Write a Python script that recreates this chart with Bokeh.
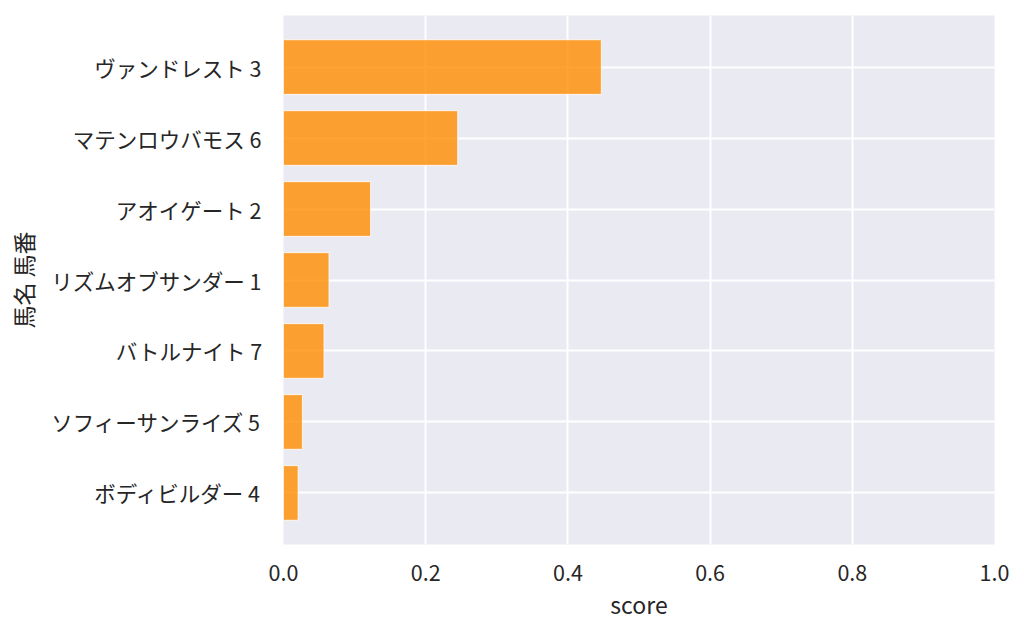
from bokeh.plotting import figure
from bokeh.models import FactorRange, Range1d, FixedTicker, ColumnDataSource
from bokeh.embed import file_html
from bokeh.resources import INLINE

# Data (top to bottom as in the reference)
names = ["ヴァンドレスト 3", "マテンロウバモス 6", "アオイゲート 2", "リズムオブサンダー 1",
         "バトルナイト 7", "ソフィーサンライズ 5", "ボディビルダー 4"]
scores = [0.447, 0.245, 0.1225, 0.064, 0.057, 0.0266, 0.0206]
x_ticks = [0.0, 0.2, 0.4, 0.6, 0.8, 1.0]

FONT = "Noto Sans CJK JP"
TEXT = "#262626"

factors = list(reversed(names))
src = ColumnDataSource(dict(name=names, score=scores))

p = figure(width=1024, height=634, output_backend="svg", toolbar_location=None,
           y_range=FactorRange(factors=factors, range_padding=0.0646, range_padding_units="percent"),
           x_range=Range1d(0, 1.0),
           min_border_left=283, min_border_right=30, min_border_top=15, min_border_bottom=90)

p.hbar(y="name", right="score", left=0, height=0.77, source=src,
       fill_color="#FF8C00", fill_alpha=0.8, line_color="white", line_alpha=0.8, line_width=1)

p.background_fill_color = "#EAEAF2"
p.border_fill_color = "white"
p.outline_line_color = None

p.xgrid.grid_line_color = "white"
p.ygrid.grid_line_color = "white"
p.xgrid.grid_line_width = 2
p.ygrid.grid_line_width = 2

p.xaxis.ticker = FixedTicker(ticks=x_ticks)
p.xaxis.major_label_overrides = {t: f"{t:.1f}" for t in x_ticks}

for ax in (p.xaxis[0], p.yaxis[0]):
    ax.axis_line_color = None
    ax.major_tick_line_color = None
    ax.minor_tick_line_color = None
    ax.major_tick_out = 0
    ax.major_tick_in = 0
    ax.major_label_text_font = FONT
    ax.major_label_text_font_size = "21.5px"
    ax.major_label_text_color = TEXT
    ax.axis_label_text_font = FONT
    ax.axis_label_text_font_size = "23px"
    ax.axis_label_text_font_style = "normal"
    ax.axis_label_text_color = TEXT

p.xaxis.axis_label = "score"
p.yaxis.axis_label = "馬名 馬番"
p.xaxis.major_label_standoff = 20
p.yaxis.major_label_standoff = 22
p.xaxis.axis_label_standoff = 3
p.yaxis.axis_label_standoff = 8

open("out.html", "w").write(file_html(p, INLINE))
